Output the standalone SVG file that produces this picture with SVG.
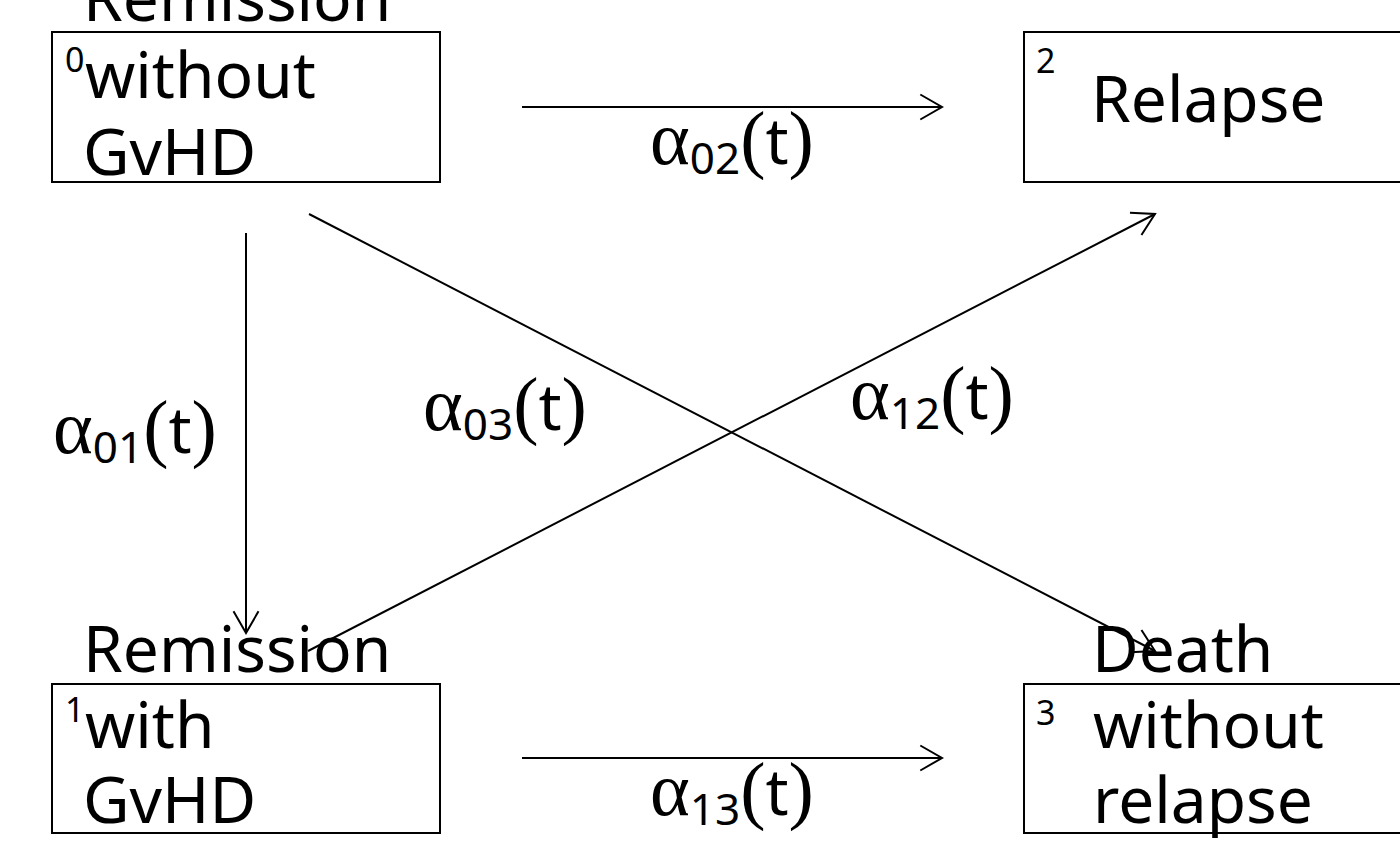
<svg xmlns="http://www.w3.org/2000/svg" width="1400" height="866" viewBox="0 0 1400 866">
<style>
.box{fill:none;stroke:#000;stroke-width:2}
.txt{font-family:"Noto Sans","Open Sans",sans-serif;font-size:64px;fill:#000}
.num{font-family:"Noto Sans","Open Sans",sans-serif;font-size:34px;fill:#000}
.g{font-family:"Liberation Serif","Times New Roman",serif;font-size:76px}
.sub{font-family:"Noto Sans","Open Sans",sans-serif;font-size:44px}
.t{font-family:"Noto Sans","Open Sans",sans-serif;font-size:64px}
.lbl{fill:#000}
.edge{stroke:#000;stroke-width:2;fill:none;marker-end:url(#arr)}
</style>
<defs>
<marker id="arr" markerUnits="userSpaceOnUse" viewBox="-25 -15 28 30" refX="0" refY="0" markerWidth="28" markerHeight="30" orient="auto">
<path d="M-21.7,-12.5 L0,0 L-21.7,12.5" fill="none" stroke="#000" stroke-width="2"/>
</marker>
</defs>
<rect width="1400" height="866" fill="#fff"/>
<g id="node0">
<rect class="box" x="52" y="32" width="388" height="150"/>
<text class="num" x="65" y="72">0</text>
<text class="txt" x="83" y="21">Remission</text>
<text class="txt" x="85" y="98">without</text>
<text class="txt" x="83" y="175">GvHD</text>
</g>
<g id="node1">
<rect class="box" x="52" y="684" width="388" height="149"/>
<text class="num" x="65" y="722">1</text>
<text class="txt" x="83" y="672">Remission</text>
<text class="txt" x="85" y="748">with</text>
<text class="txt" x="83" y="823">GvHD</text>
</g>
<g id="node2">
<rect class="box" x="1024" y="32" width="400" height="150"/>
<text class="num" x="1036" y="73">2</text>
<text class="txt" x="1091" y="122">Relapse</text>
</g>
<g id="node3">
<rect class="box" x="1024" y="684" width="400" height="149"/>
<text class="num" x="1036" y="725">3</text>
<text class="txt" x="1092" y="672">Death</text>
<text class="txt" x="1093" y="748">without</text>
<text class="txt" x="1093" y="823">relapse</text>
</g>
<g id="connectors">
<line class="edge" x1="522" y1="107" x2="942" y2="107"/>
<line class="edge" x1="522" y1="758" x2="942" y2="758"/>
<line class="edge" x1="246" y1="233" x2="246" y2="633"/>
<line class="edge" x1="309" y1="214" x2="1155" y2="651"/>
<line class="edge" x1="308" y1="651" x2="1155" y2="214"/>
<text class="lbl" x="650" y="164"><tspan class="g">α</tspan><tspan class="sub" dy="10">02</tspan><tspan class="g" dy="-10">(</tspan><tspan class="t">t</tspan><tspan class="g">)</tspan></text>
<text class="lbl" x="53" y="453"><tspan class="g">α</tspan><tspan class="sub" dy="10">01</tspan><tspan class="g" dy="-10">(</tspan><tspan class="t">t</tspan><tspan class="g">)</tspan></text>
<text class="lbl" x="423" y="430"><tspan class="g">α</tspan><tspan class="sub" dy="10">03</tspan><tspan class="g" dy="-10">(</tspan><tspan class="t">t</tspan><tspan class="g">)</tspan></text>
<text class="lbl" x="850" y="419"><tspan class="g">α</tspan><tspan class="sub" dy="10">12</tspan><tspan class="g" dy="-10">(</tspan><tspan class="t">t</tspan><tspan class="g">)</tspan></text>
<text class="lbl" x="650" y="815"><tspan class="g">α</tspan><tspan class="sub" dy="10">13</tspan><tspan class="g" dy="-10">(</tspan><tspan class="t">t</tspan><tspan class="g">)</tspan></text>
</g>
</svg>
